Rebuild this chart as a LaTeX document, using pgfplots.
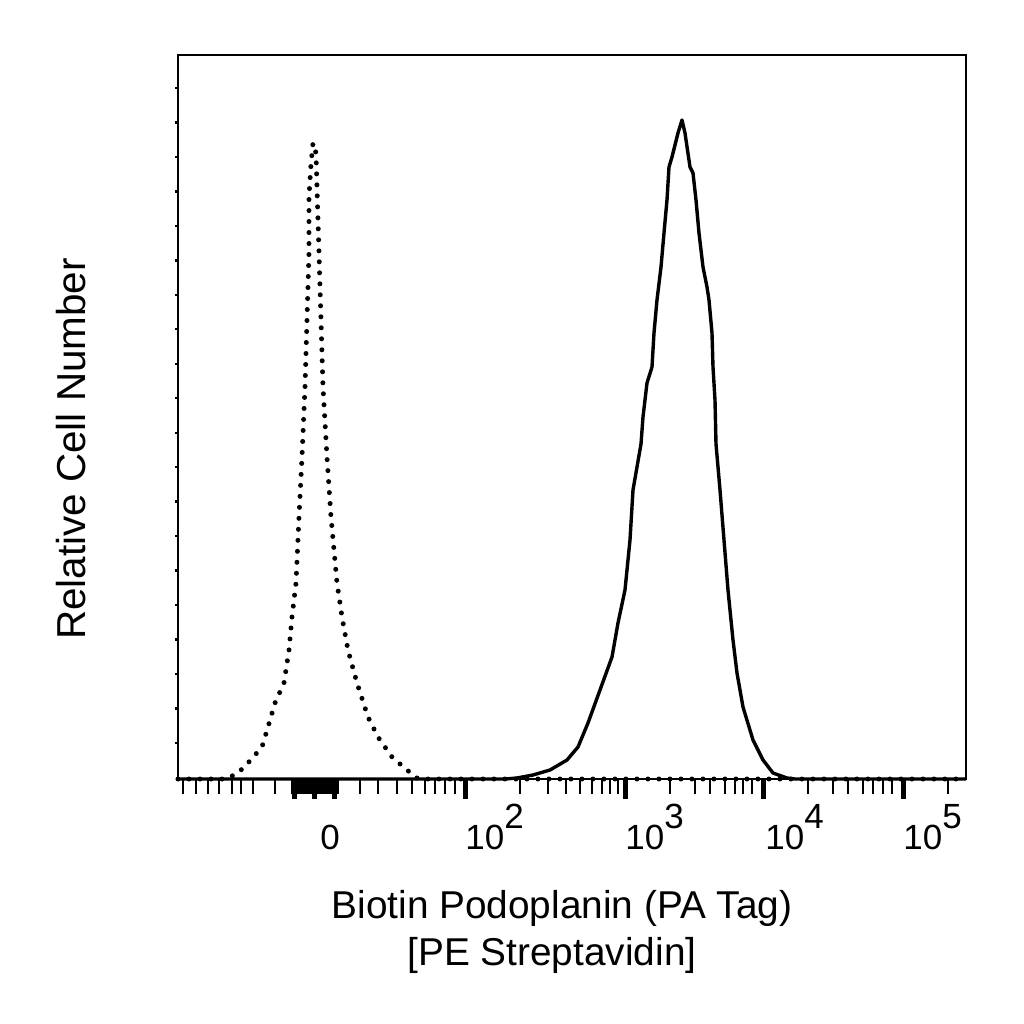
\documentclass[border=0pt]{standalone}
\usepackage{fontspec}
\setmainfont{Liberation Sans}
\usepackage{pgfplots}
\pgfplotsset{compat=1.18}

\begin{document}
\begin{tikzpicture}
% page = 1024 px, 1 px = 0.5pt
\path[use as bounding box] (-89pt,-122.5pt) rectangle (423pt,389.5pt);
\begin{axis}[
  at={(0,0)}, anchor=south west,
  scale only axis,
  width=394pt, height=362pt,
  xmin=178, xmax=966,
  ymin=0, ymax=724,
  clip=false,
  axis line style={line width=1.3pt},
  tick align=outside,
  xtick pos=bottom, ytick pos=left,
  xtick={295,315,335,465,625,763,903},
  xticklabels={},
  minor xtick={183,196,208,219,232,241,253,275,
    292,294,296,298,300,302,304,306,308,310,312,314,316,318,
    320,322,324,326,328,330,332,334,336,338,
    360,378,397,412,425,435,445,455,
    520,548,566,580,592,602,610,618,
    670,695,710,725,735,743,752,
    808,833,848,863,873,883,892,948},
  major tick length=10pt,
  minor tick length=7.5pt,
  major tick style={line width=2.5pt, black},
  minor tick style={line width=1pt, black},
  ytick=\empty,
  extra y ticks={36.07,70.54,105.01,139.48,173.95,208.42,242.89,277.36,311.83,346.3,
    380.77,415.24,449.71,484.18,518.65,553.12,587.59,622.06,656.53,691},
  extra y tick labels={},
  extra y tick style={major tick length=1.5pt, major tick style={line width=1.2pt}},
]

% dotted histogram (control)
\addplot[black, line width=2.5pt, line cap=round, dash pattern=on 0pt off 5.5pt] coordinates {
  (178,0) (224,0) (228,1) (238,6) (248,16) (262,32) (268,52) (275,76)
  (284,96) (289,129) (292,162) (296,196) (299,262) (302,322) (305,392)
  (307,459) (309,526) (309,582) (311,615) (313,636) (316,626) (317,592)
  (319,526) (321,459) (323,392) (327,322) (331,262) (334,229) (337,196)
  (342,162) (348,129) (357,96) (368,62) (378,42) (392,22) (407,9)
  (417,1) (425,0) (966,0)
};

% solid histogram (stained)
\addplot[black, line width=1.7pt, line join=round] coordinates {
  (178,0) (505,0) (517,1) (533,4) (550,9) (567,19) (578,32) (588,56)
  (600,89) (612,122) (618,156) (625,189) (630,239) (633,289) (641,335)
  (643,362) (647,396) (652,412) (654,446) (657,479) (661,512) (664,546)
  (667,579) (669,612) (672,622) (678,646) (682,659) (685,646) (690,612)
  (693,606) (696,579) (699,546) (703,512) (707,492) (709,479) (712,446)
  (713,412) (715,379) (716,335) (720,289) (724,239) (728,189) (733,139)
  (737,106) (743,72) (753,39) (763,19) (773,6) (787,1) (795,0) (966,0)
};

% tick labels
\node[anchor=base] at (axis cs:330,-70) {\fontsize{17.5}{20}\selectfont 0};
\node[anchor=base west, inner sep=0pt] at (axis cs:465,-70) {\fontsize{17.5}{20}\selectfont 10\raisebox{10.5pt}{2}};
\node[anchor=base west, inner sep=0pt] at (axis cs:625,-70) {\fontsize{17.5}{20}\selectfont 10\raisebox{10.5pt}{3}};
\node[anchor=base west, inner sep=0pt] at (axis cs:765,-70) {\fontsize{17.5}{20}\selectfont 10\raisebox{10.5pt}{4}};
\node[anchor=base west, inner sep=0pt] at (axis cs:903,-70) {\fontsize{17.5}{20}\selectfont 10\raisebox{10.5pt}{5}};

% axis titles
\node[anchor=base, inner sep=0pt] at (axis cs:562,-139) {\fontsize{19.4}{23}\selectfont Biotin Podoplanin (PA Tag)};
\node[anchor=base, inner sep=0pt] at (axis cs:552,-186) {\fontsize{19.4}{23}\selectfont [PE Streptavidin]};
\node[anchor=base, rotate=90, inner sep=0pt] at (axis cs:86,330) {\fontsize{20.2}{24}\selectfont Relative Cell Number};

\end{axis}
\end{tikzpicture}
\end{document}
